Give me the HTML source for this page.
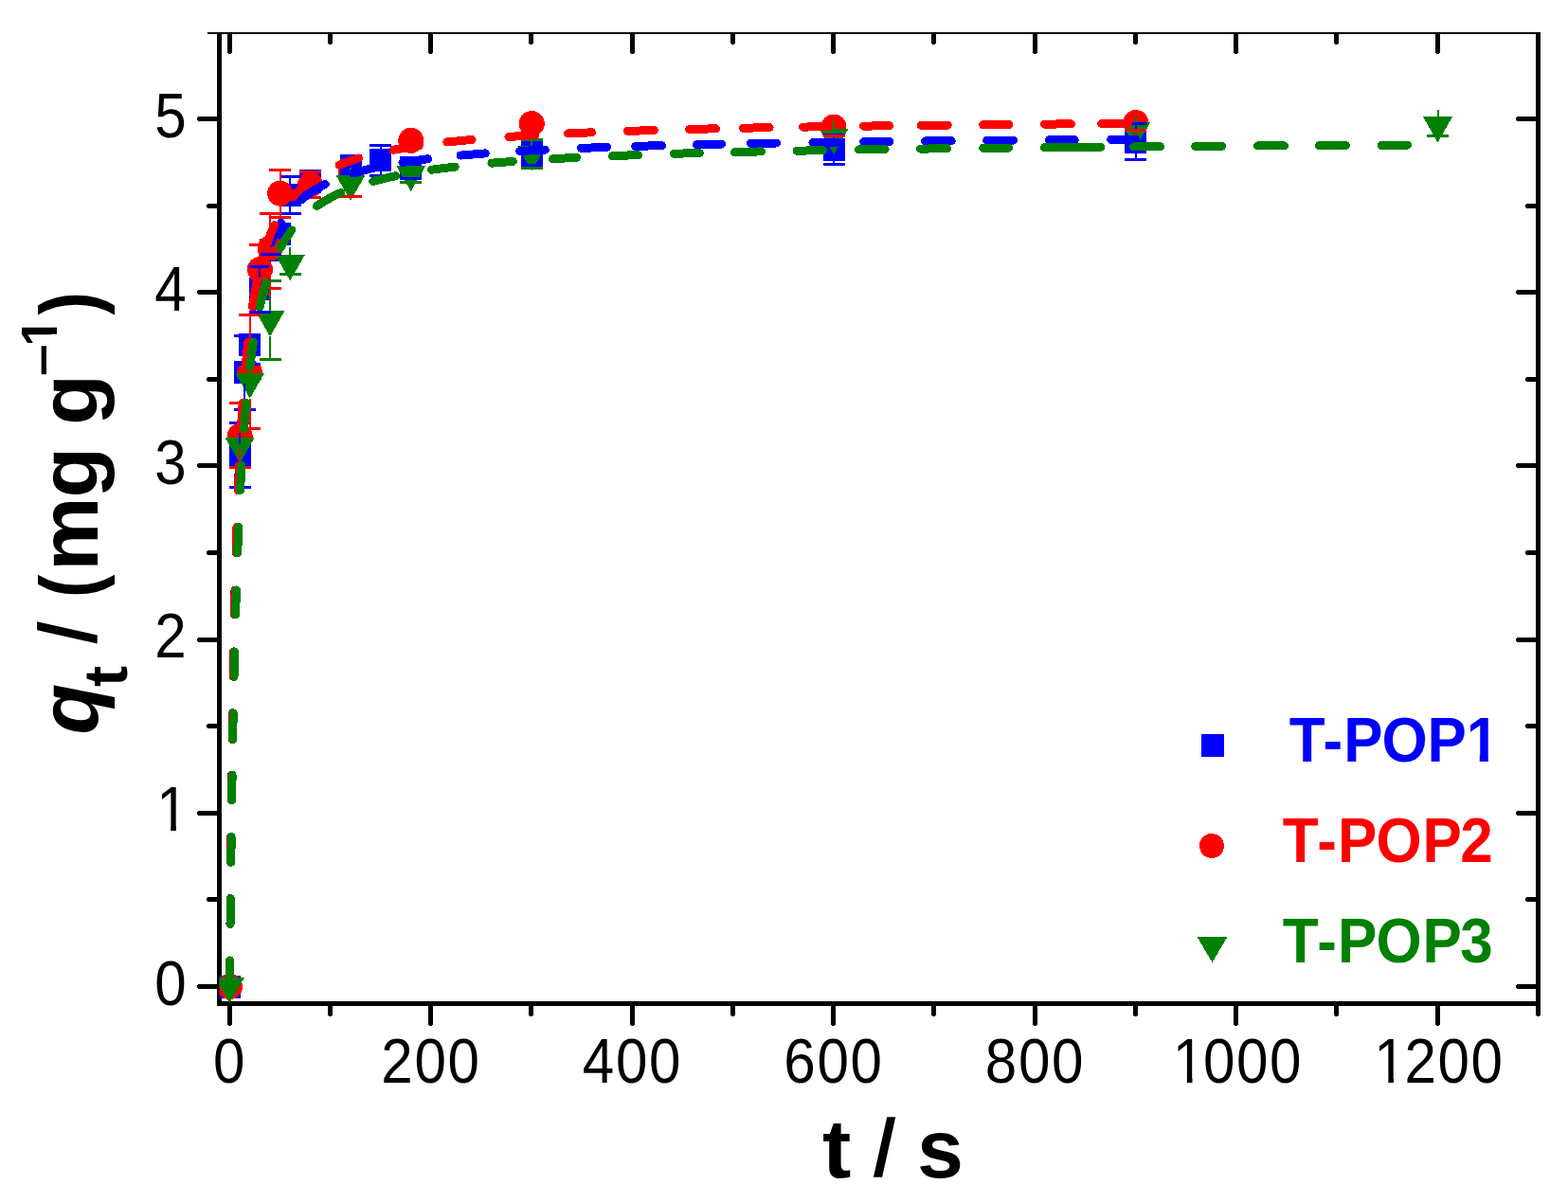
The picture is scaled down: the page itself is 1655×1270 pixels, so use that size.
<!DOCTYPE html><html><head><meta charset="utf-8"><style>html,body{margin:0;padding:0;background:#fff;}svg{display:block;}text{font-family:"Liberation Sans",Arial,sans-serif;}</style></head><body>
<svg width="1655" height="1270" viewBox="0 0 1655 1270" shape-rendering="crispEdges">
<rect width="1655" height="1270" fill="#fff"/>
<defs><clipPath id="pc"><rect x="231.5" y="33.9" width="1392" height="1025.6"/></clipPath></defs>
<g fill="#000"><rect x="229" y="34" width="5" height="1028"/><rect x="229" y="1057" width="1397" height="5"/><rect x="1621" y="34" width="5" height="1028"/><rect x="219" y="34" width="1407" height="2"/><rect x="240" y="1062" width="5" height="20"/><rect x="241" y="1082" width="3" height="1"/><rect x="240" y="36" width="5" height="20"/><rect x="241" y="56" width="3" height="1"/><rect x="346" y="1062" width="5" height="10"/><rect x="347" y="1072" width="3" height="1"/><rect x="346" y="36" width="5" height="10"/><rect x="347" y="46" width="3" height="1"/><rect x="452" y="1062" width="5" height="20"/><rect x="453" y="1082" width="3" height="1"/><rect x="452" y="36" width="5" height="20"/><rect x="453" y="56" width="3" height="1"/><rect x="558" y="1062" width="5" height="10"/><rect x="559" y="1072" width="3" height="1"/><rect x="558" y="36" width="5" height="10"/><rect x="559" y="46" width="3" height="1"/><rect x="665" y="1062" width="5" height="20"/><rect x="666" y="1082" width="3" height="1"/><rect x="665" y="36" width="5" height="20"/><rect x="666" y="56" width="3" height="1"/><rect x="771" y="1062" width="5" height="10"/><rect x="772" y="1072" width="3" height="1"/><rect x="771" y="36" width="5" height="10"/><rect x="772" y="46" width="3" height="1"/><rect x="877" y="1062" width="5" height="20"/><rect x="878" y="1082" width="3" height="1"/><rect x="877" y="36" width="5" height="20"/><rect x="878" y="56" width="3" height="1"/><rect x="983" y="1062" width="5" height="10"/><rect x="984" y="1072" width="3" height="1"/><rect x="983" y="36" width="5" height="10"/><rect x="984" y="46" width="3" height="1"/><rect x="1090" y="1062" width="5" height="20"/><rect x="1091" y="1082" width="3" height="1"/><rect x="1090" y="36" width="5" height="20"/><rect x="1091" y="56" width="3" height="1"/><rect x="1196" y="1062" width="5" height="10"/><rect x="1197" y="1072" width="3" height="1"/><rect x="1196" y="36" width="5" height="10"/><rect x="1197" y="46" width="3" height="1"/><rect x="1302" y="1062" width="5" height="20"/><rect x="1303" y="1082" width="3" height="1"/><rect x="1302" y="36" width="5" height="20"/><rect x="1303" y="56" width="3" height="1"/><rect x="1408" y="1062" width="5" height="10"/><rect x="1409" y="1072" width="3" height="1"/><rect x="1408" y="36" width="5" height="10"/><rect x="1409" y="46" width="3" height="1"/><rect x="1515" y="1062" width="5" height="20"/><rect x="1516" y="1082" width="3" height="1"/><rect x="1515" y="36" width="5" height="20"/><rect x="1516" y="56" width="3" height="1"/><rect x="1621" y="1062" width="5" height="10"/><rect x="1622" y="1072" width="3" height="1"/><rect x="1621" y="36" width="5" height="10"/><rect x="1622" y="46" width="3" height="1"/><rect x="209" y="1039" width="20" height="5"/><rect x="208" y="1040" width="1" height="3"/><rect x="1601" y="1039" width="20" height="5"/><rect x="1600" y="1040" width="1" height="3"/><rect x="219" y="947" width="10" height="5"/><rect x="218" y="948" width="1" height="3"/><rect x="1611" y="947" width="10" height="5"/><rect x="1610" y="948" width="1" height="3"/><rect x="209" y="856" width="20" height="5"/><rect x="208" y="857" width="1" height="3"/><rect x="1601" y="856" width="20" height="5"/><rect x="1600" y="857" width="1" height="3"/><rect x="219" y="764" width="10" height="5"/><rect x="218" y="765" width="1" height="3"/><rect x="1611" y="764" width="10" height="5"/><rect x="1610" y="765" width="1" height="3"/><rect x="209" y="673" width="20" height="5"/><rect x="208" y="674" width="1" height="3"/><rect x="1601" y="673" width="20" height="5"/><rect x="1600" y="674" width="1" height="3"/><rect x="219" y="581" width="10" height="5"/><rect x="218" y="582" width="1" height="3"/><rect x="1611" y="581" width="10" height="5"/><rect x="1610" y="582" width="1" height="3"/><rect x="209" y="489" width="20" height="5"/><rect x="208" y="490" width="1" height="3"/><rect x="1601" y="489" width="20" height="5"/><rect x="1600" y="490" width="1" height="3"/><rect x="219" y="398" width="10" height="5"/><rect x="218" y="399" width="1" height="3"/><rect x="1611" y="398" width="10" height="5"/><rect x="1610" y="399" width="1" height="3"/><rect x="209" y="306" width="20" height="5"/><rect x="208" y="307" width="1" height="3"/><rect x="1601" y="306" width="20" height="5"/><rect x="1600" y="307" width="1" height="3"/><rect x="219" y="215" width="10" height="5"/><rect x="218" y="216" width="1" height="3"/><rect x="1611" y="215" width="10" height="5"/><rect x="1610" y="216" width="1" height="3"/><rect x="209" y="123" width="20" height="5"/><rect x="208" y="124" width="1" height="3"/><rect x="1601" y="123" width="20" height="5"/><rect x="1600" y="124" width="1" height="3"/></g>
<g font-size="64" fill="#000"><g transform="translate(242.50,1142.9) scale(0.94,1.04)"><text x="-18.67" y="0">0</text></g><g transform="translate(455.00,1142.9) scale(0.94,1.04)"><text x="-56.01 -18.67 18.67" y="0">200</text></g><g transform="translate(667.50,1142.9) scale(0.94,1.04)"><text x="-56.01 -18.67 18.67" y="0">400</text></g><g transform="translate(880.00,1142.9) scale(0.94,1.04)"><text x="-56.01 -18.67 18.67" y="0">600</text></g><g transform="translate(1092.50,1142.9) scale(0.94,1.04)"><text x="-56.01 -18.67 18.67" y="0">800</text></g><g transform="translate(1305.00,1142.9) scale(0.94,1.04)"><text x="-71.49 -37.34 0.00 37.34" y="0">1000</text><rect x="-68.99" y="-5.7" width="13.50" height="7" fill="#fff" shape-rendering="geometricPrecision"/><rect x="-49.49" y="-5.7" width="13.00" height="7" fill="#fff" shape-rendering="geometricPrecision"/></g><g transform="translate(1517.50,1142.9) scale(0.94,1.04)"><text x="-71.49 -37.34 0.00 37.34" y="0">1200</text><rect x="-68.99" y="-5.7" width="13.50" height="7" fill="#fff" shape-rendering="geometricPrecision"/><rect x="-49.49" y="-5.7" width="13.00" height="7" fill="#fff" shape-rendering="geometricPrecision"/></g><g transform="translate(163.2,1060.50) scale(0.94,1.04)"><text x="0.00" y="0">0</text></g><g transform="translate(163.2,877.30) scale(0.94,1.04)"><text x="2.13" y="0">1</text><rect x="4.63" y="-5.7" width="13.50" height="7" fill="#fff" shape-rendering="geometricPrecision"/><rect x="24.13" y="-5.7" width="13.00" height="7" fill="#fff" shape-rendering="geometricPrecision"/></g><g transform="translate(163.2,694.10) scale(0.94,1.04)"><text x="0.00" y="0">2</text></g><g transform="translate(163.2,510.90) scale(0.94,1.04)"><text x="0.00" y="0">3</text></g><g transform="translate(163.2,327.70) scale(0.94,1.04)"><text x="0.00" y="0">4</text></g><g transform="translate(163.2,144.50) scale(0.94,1.04)"><text x="0.00" y="0">5</text></g></g>
<g font-size="88" font-weight="bold" fill="#000"><text transform="translate(868,1243) scale(1.037,1)">t</text><text transform="translate(921.3,1241) skewX(-3) scale(0.88,0.97)">/</text><text x="968" y="1243">s</text></g>
<g transform="translate(103,773) rotate(-90)" font-size="88" font-weight="bold" fill="#000"><text x="-2.6" y="0" font-style="italic">q</text><text transform="translate(47.9,30.8) scale(1.11,1.08)" font-size="60">t</text><text transform="translate(92.8,-1.9) skewX(-3) scale(0.88,0.97)">/</text><text transform="translate(142.1,0) scale(0.83,1)">(</text><text x="170.2" y="0">m</text><text x="247.55" y="0">g</text><text x="324.15" y="0">g</text><text transform="translate(376,-41.8) scale(1.12,1)" font-size="54">–</text><g transform="translate(407.3,-43.4)"><text font-size="54">1</text><rect x="1" y="-5.7" width="12" height="7" fill="#fff" shape-rendering="geometricPrecision"/><rect x="20.0" y="-5.7" width="12" height="7" fill="#fff" shape-rendering="geometricPrecision"/></g><text transform="translate(440.4,0) scale(0.83,1)">)</text></g>
<g clip-path="url(#pc)">
<g fill="#ff0000"><circle cx="370.00" cy="183.00" r="13.5"/></g>
<g fill="#0000ff"><rect x="231.00" y="1029.50" width="23" height="24"/><rect x="241.62" y="468.50" width="23" height="24"/><rect x="246.94" y="381.30" width="23" height="24"/><rect x="252.25" y="352.00" width="23" height="24"/><rect x="262.88" y="293.00" width="23" height="24"/><rect x="273.50" y="252.00" width="23" height="24"/><rect x="284.12" y="235.00" width="23" height="24"/><rect x="294.75" y="194.00" width="23" height="24"/><rect x="316.00" y="179.00" width="23" height="24"/><rect x="358.50" y="163.00" width="23" height="24"/><rect x="390.38" y="157.20" width="23" height="24"/><rect x="422.25" y="165.00" width="23" height="24"/><rect x="549.75" y="150.00" width="23" height="24"/><rect x="868.50" y="146.00" width="23" height="24"/><rect x="1187.25" y="137.50" width="23" height="24"/></g>
<g fill="#ff0000"><circle cx="242.50" cy="1041.50" r="13.5"/><circle cx="253.12" cy="460.50" r="13.5"/><circle cx="263.75" cy="394.00" r="13.5"/><circle cx="274.38" cy="284.50" r="13.5"/><circle cx="285.00" cy="262.00" r="13.5"/><circle cx="295.62" cy="204.20" r="13.5"/><circle cx="327.50" cy="195.00" r="13.5"/><circle cx="433.75" cy="148.30" r="13.5"/><circle cx="561.25" cy="130.50" r="13.5"/><circle cx="880.00" cy="134.00" r="13.5"/><circle cx="1198.75" cy="129.50" r="13.5"/></g>
<g fill="#008000"><path d="M227.00 1032.00 L258.00 1032.00 L242.50 1059.00Z"/><path d="M237.62 462.00 L268.62 462.00 L253.12 489.00Z"/><path d="M248.25 393.70 L279.25 393.70 L263.75 420.70Z"/><path d="M269.50 328.20 L300.50 328.20 L285.00 355.20Z"/><path d="M290.75 269.30 L321.75 269.30 L306.25 296.30Z"/><path d="M354.50 185.00 L385.50 185.00 L370.00 212.00Z"/><path d="M418.25 175.00 L449.25 175.00 L433.75 202.00Z"/><path d="M545.75 153.50 L576.75 153.50 L561.25 180.50Z"/><path d="M864.50 136.00 L895.50 136.00 L880.00 163.00Z"/><path d="M1183.25 129.00 L1214.25 129.00 L1198.75 156.00Z"/><path d="M1502.00 123.30 L1533.00 123.30 L1517.50 150.30Z"/></g>
<g stroke="#0000ff"><line x1="253.12" y1="446.40" x2="253.12" y2="468.50" stroke-width="2"/><line x1="253.12" y1="492.50" x2="253.12" y2="514.60" stroke-width="2"/><line x1="241.62" y1="446.40" x2="264.62" y2="446.40" stroke-width="3"/><line x1="241.62" y1="514.60" x2="264.62" y2="514.60" stroke-width="3"/><line x1="258.44" y1="354.00" x2="258.44" y2="381.30" stroke-width="2"/><line x1="258.44" y1="405.30" x2="258.44" y2="432.50" stroke-width="2"/><line x1="246.94" y1="354.00" x2="269.94" y2="354.00" stroke-width="3"/><line x1="246.94" y1="432.50" x2="269.94" y2="432.50" stroke-width="3"/><line x1="263.75" y1="376.00" x2="263.75" y2="384.00" stroke-width="2"/><line x1="252.25" y1="384.00" x2="275.25" y2="384.00" stroke-width="3"/><line x1="274.38" y1="281.30" x2="274.38" y2="293.00" stroke-width="2"/><line x1="274.38" y1="317.00" x2="274.38" y2="329.00" stroke-width="2"/><line x1="262.88" y1="281.30" x2="285.88" y2="281.30" stroke-width="3"/><line x1="262.88" y1="329.00" x2="285.88" y2="329.00" stroke-width="3"/><line x1="285.00" y1="250.00" x2="285.00" y2="252.00" stroke-width="2"/><line x1="273.50" y1="268.40" x2="296.50" y2="268.40" stroke-width="3"/><line x1="306.25" y1="186.30" x2="306.25" y2="194.00" stroke-width="2"/><line x1="306.25" y1="218.00" x2="306.25" y2="225.40" stroke-width="2"/><line x1="294.75" y1="186.30" x2="317.75" y2="186.30" stroke-width="3"/><line x1="294.75" y1="225.40" x2="317.75" y2="225.40" stroke-width="3"/><line x1="316.00" y1="180.00" x2="339.00" y2="180.00" stroke-width="3"/><line x1="316.00" y1="202.00" x2="339.00" y2="202.00" stroke-width="3"/><line x1="401.88" y1="153.40" x2="401.88" y2="157.20" stroke-width="2"/><line x1="401.88" y1="181.20" x2="401.88" y2="185.00" stroke-width="2"/><line x1="390.38" y1="153.40" x2="413.38" y2="153.40" stroke-width="3"/><line x1="390.38" y1="185.00" x2="413.38" y2="185.00" stroke-width="3"/><line x1="422.25" y1="172.00" x2="445.25" y2="172.00" stroke-width="3"/><line x1="422.25" y1="188.00" x2="445.25" y2="188.00" stroke-width="3"/><line x1="549.75" y1="150.00" x2="572.75" y2="150.00" stroke-width="3"/><line x1="549.75" y1="174.00" x2="572.75" y2="174.00" stroke-width="3"/><line x1="880.00" y1="142.60" x2="880.00" y2="146.00" stroke-width="2"/><line x1="880.00" y1="170.00" x2="880.00" y2="173.40" stroke-width="2"/><line x1="868.50" y1="142.60" x2="891.50" y2="142.60" stroke-width="3"/><line x1="868.50" y1="173.40" x2="891.50" y2="173.40" stroke-width="3"/><line x1="1198.75" y1="130.00" x2="1198.75" y2="137.50" stroke-width="2"/><line x1="1198.75" y1="161.50" x2="1198.75" y2="168.40" stroke-width="2"/><line x1="1187.25" y1="130.00" x2="1210.25" y2="130.00" stroke-width="3"/><line x1="1187.25" y1="168.40" x2="1210.25" y2="168.40" stroke-width="3"/></g>
<g stroke="#008000"><line x1="285.00" y1="296.50" x2="285.00" y2="328.20" stroke-width="2"/><line x1="285.00" y1="355.20" x2="285.00" y2="379.40" stroke-width="2"/><line x1="273.50" y1="296.50" x2="296.50" y2="296.50" stroke-width="3"/><line x1="273.50" y1="379.40" x2="296.50" y2="379.40" stroke-width="3"/><line x1="306.25" y1="261.00" x2="306.25" y2="269.30" stroke-width="2"/><line x1="294.75" y1="289.40" x2="317.75" y2="289.40" stroke-width="3"/><line x1="370.00" y1="177.00" x2="370.00" y2="185.00" stroke-width="2"/><line x1="422.25" y1="192.00" x2="445.25" y2="192.00" stroke-width="3"/><line x1="561.25" y1="147.50" x2="561.25" y2="153.50" stroke-width="2"/><line x1="549.75" y1="147.50" x2="572.75" y2="147.50" stroke-width="3"/><line x1="549.75" y1="177.50" x2="572.75" y2="177.50" stroke-width="3"/><line x1="880.00" y1="127.00" x2="880.00" y2="136.00" stroke-width="2"/><line x1="1198.75" y1="122.00" x2="1198.75" y2="129.00" stroke-width="2"/><line x1="1517.50" y1="116.00" x2="1517.50" y2="123.30" stroke-width="2"/><line x1="1506.00" y1="143.50" x2="1529.00" y2="143.50" stroke-width="3"/></g>
<g stroke="#ff0000"><line x1="253.12" y1="425.40" x2="253.12" y2="447.00" stroke-width="2"/><line x1="253.12" y1="474.00" x2="253.12" y2="493.60" stroke-width="2"/><line x1="241.62" y1="425.40" x2="264.62" y2="425.40" stroke-width="3"/><line x1="241.62" y1="493.60" x2="264.62" y2="493.60" stroke-width="3"/><line x1="263.75" y1="332.50" x2="263.75" y2="380.50" stroke-width="2"/><line x1="252.25" y1="332.50" x2="275.25" y2="332.50" stroke-width="3"/><line x1="263.75" y1="421.00" x2="263.75" y2="452.00" stroke-width="2"/><line x1="252.25" y1="452.00" x2="275.25" y2="452.00" stroke-width="3"/><line x1="274.38" y1="258.40" x2="274.38" y2="271.00" stroke-width="2"/><line x1="274.38" y1="298.00" x2="274.38" y2="310.00" stroke-width="2"/><line x1="262.88" y1="258.40" x2="285.88" y2="258.40" stroke-width="3"/><line x1="262.88" y1="310.00" x2="285.88" y2="310.00" stroke-width="3"/><line x1="285.00" y1="225.40" x2="285.00" y2="248.50" stroke-width="2"/><line x1="285.00" y1="275.50" x2="285.00" y2="304.40" stroke-width="2"/><line x1="273.50" y1="225.40" x2="296.50" y2="225.40" stroke-width="3"/><line x1="273.50" y1="304.40" x2="296.50" y2="304.40" stroke-width="3"/><line x1="295.62" y1="179.40" x2="295.62" y2="190.70" stroke-width="2"/><line x1="295.62" y1="217.70" x2="295.62" y2="229.40" stroke-width="2"/><line x1="284.12" y1="179.40" x2="307.12" y2="179.40" stroke-width="3"/><line x1="284.12" y1="229.40" x2="307.12" y2="229.40" stroke-width="3"/><line x1="316.00" y1="181.50" x2="339.00" y2="181.50" stroke-width="3"/><line x1="316.00" y1="208.50" x2="339.00" y2="208.50" stroke-width="3"/><line x1="358.50" y1="207.50" x2="381.50" y2="207.50" stroke-width="3"/><line x1="868.50" y1="143.50" x2="891.50" y2="143.50" stroke-width="3"/><line x1="1198.75" y1="137.50" x2="1198.75" y2="142.70" stroke-width="2"/><line x1="1187.25" y1="137.50" x2="1210.25" y2="137.50" stroke-width="3"/></g>
<g fill="none" stroke-width="9" stroke-linecap="round" stroke-linejoin="round"><path d="M242.5 1041.5L242.7 1013.9M243.0 975.5L243.2 948.7M243.6 910.3L243.8 883.5M244.3 844.5L244.6 818.1M245.1 780.5L245.5 752.8M246.1 714.3L246.6 687.9M247.4 649.0L248.0 623.0M249.1 583.5L249.9 556.5M251.3 517.5L252.4 491.5M254.4 453.1L256.2 425.5M259.3 387.8L261.9 363.0L262.1 361.0M267.4 324.0L270.5 307.3L272.5 298.4M285.4 256.9L289.6 247.9L293.9 240.0L296.8 235.3M317.9 211.0L324.2 206.0L331.6 201.0L339.4 196.5L343.2 194.5M372.8 183.0L385.3 179.5L399.4 176.2M425.0 171.4L445.8 168.5L451.5 167.7M486.1 164.1L512.2 161.9M548.7 159.5L575.3 158.1M613.5 156.4L640.5 155.4M670.7 154.4L698.5 153.6M735.4 152.7L761.4 152.1M792.5 151.5L819.4 151.0M857.9 150.4L885.4 150.0M911.7 149.7L939.0 149.4M976.4 149.0L1004.2 148.7M1041.7 148.3L1069.5 148.1M1107.5 147.8L1134.2 147.6M1172.7 147.3L1198.8 147.2" stroke="#0000ff"/><path d="M242.5 1041.5L242.7 1013.9M243.0 975.5L243.3 948.7M243.6 910.3L243.9 883.5M244.3 844.5L244.7 818.1M245.2 780.5L245.6 752.8M246.2 714.3L246.7 687.9M247.5 649.0L248.1 623.0M249.2 583.5L250.0 556.5M251.4 517.5L252.5 491.5M254.4 453.1L256.2 425.5M259.1 387.8L261.7 361.0M266.5 323.8L269.5 306.1L271.3 296.8M281.7 257.8L285.5 247.5L289.8 237.7M308.9 208.0L314.3 202.1L320.2 196.7L326.5 191.7L332.4 187.5M358.0 174.2L368.3 170.3L378.5 167.0M415.2 158.2L434.0 155.0L442.4 153.7M471.8 150.0L498.1 147.4M537.0 144.4L564.5 142.7M599.5 140.9L624.5 139.8M662.5 138.4L690.3 137.5M727.8 136.5L755.4 135.8M784.5 135.2L812.1 134.7M847.4 134.1L874.9 133.6M911.7 133.1L938.6 132.8M972.4 132.4L1000.2 132.1M1037.7 131.7L1064.9 131.4M1102.5 131.1L1130.5 130.9M1162.8 130.6L1190.3 130.5" stroke="#ff0000"/><path d="M242.5 1041.5L242.7 1013.9M243.1 975.5L243.4 948.7M243.8 910.3L244.2 883.5M244.7 844.5L245.1 818.1M245.7 780.5L246.2 752.8M247.0 714.3L247.6 687.9M248.6 649.0L249.4 623.0M250.7 583.5L251.8 556.5M253.5 517.5L255.0 491.5M257.5 453.1L259.8 425.5M263.7 387.8L266.6 366.0L267.4 360.9M274.2 324.0L277.8 309.4L281.0 298.3M295.7 261.9L300.2 254.1L305.2 246.6L307.8 243.0M334.5 217.5L342.1 212.6L350.8 207.7L359.6 203.5M393.8 191.5L408.3 187.8L417.6 185.8M455.5 179.2L480.1 176.1M518.9 172.2L541.3 170.4M583.5 167.7L608.5 166.3M646.5 164.6L673.5 163.6M711.5 162.3L738.3 161.5M775.5 160.6L803.5 159.9M841.0 159.2L868.3 158.7M906.3 158.0L934.1 157.6M971.5 157.1L999.7 156.8M1037.7 156.3L1064.5 156.1M1102.5 155.7L1161.9 155.2M1196.5 154.9L1224.5 154.7M1261.6 154.5L1289.4 154.3M1327.4 154.0L1355.4 153.9M1392.5 153.7L1420.3 153.5M1458.3 153.4L1485.5 153.2" stroke="#008000"/></g>
</g>
<rect x="1268" y="775" width="23.5" height="24" fill="#0000ff"/>
<circle cx="1279" cy="893" r="13" fill="#ff0000"/>
<path d="M1263.5 989 L1295.5 989 L1279.5 1016Z" fill="#008000"/>
<g font-size="62" font-weight="bold"><g transform="translate(1360.1,803.9) scale(1,1.064)" fill="#0000ff"><text x="0" y="0" dx="0.7 1.2 1.1 -1.1 -0.1 -0.1">T-POP1</text><rect x="189.67" y="-6.7" width="12" height="7.7" fill="#fff" shape-rendering="geometricPrecision"/><rect x="210.67" y="-6.7" width="13" height="7.7" fill="#fff" shape-rendering="geometricPrecision"/></g><g transform="translate(1353.8,910) scale(1,1.064)" fill="#ff0000"><text x="0" y="0" dx="0 2 1 -0.8 0.8 -1.6">T-POP2</text></g><g transform="translate(1353.8,1015.7) scale(1,1.064)" fill="#008000"><text x="0" y="0" dx="0 2 1 -0.8 0.8 -1.6">T-POP3</text></g></g>
</svg></body></html>
